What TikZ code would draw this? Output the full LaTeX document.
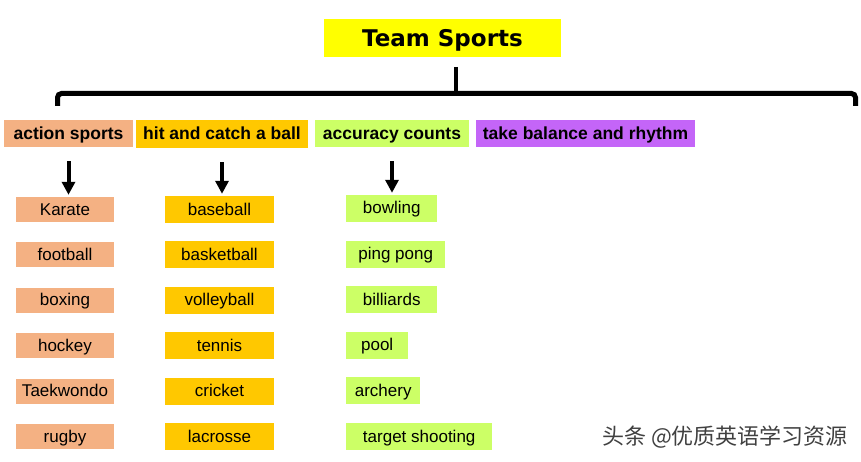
\documentclass[tikz,border=0pt]{standalone}
\usepackage{fontspec}
\setmainfont{Liberation Sans}
\newfontfamily\titlefont{DejaVu Sans}
\newfontfamily\cjk{Noto Sans CJK SC}
\usetikzlibrary{arrows.meta}
\definecolor{salmon}{HTML}{F4B183}
\definecolor{gold}{HTML}{FFC800}
\definecolor{lime}{HTML}{CCFF66}
\definecolor{violet}{HTML}{C465F8}
\definecolor{titleyellow}{HTML}{FFFF00}
\tikzset{
  hdr/.style={inner sep=0pt, minimum height=27pt, text height=14pt, text depth=2.5pt,
              font=\fontsize{17.5}{20}\selectfont\bfseries},
  item/.style={inner sep=0pt, minimum height=25pt, text height=13.5pt, text depth=2.5pt,
               font=\fontsize{17}{20}\selectfont},
  colone/.style={item, fill=salmon, minimum width=98pt},
  coltwo/.style={item, fill=gold, minimum width=109pt, minimum height=27pt},
  colthree/.style={item, fill=lime, minimum height=27pt, anchor=west},
  arr/.style={line width=4pt, -{Triangle[length=13pt,width=13pt]}, shorten <=14pt, shorten >=2pt},
}
\begin{document}
\begin{tikzpicture}[x=1pt,y=-1pt]
\useasboundingbox (0,0) rectangle (861,462);
% title
\node[fill=titleyellow, minimum width=237pt, minimum height=38pt, inner sep=0pt,
      text height=19pt, text depth=1.6pt,
      font=\titlefont\fontsize{23}{26}\selectfont\bfseries] (title) at (442.5,38) {Team Sports};
% stem and brace
\coordinate (stemtop) at (456,67);
\coordinate (stembot) at (456,93);
\draw[line width=4pt] (stemtop) -- (stembot);
\coordinate (bl) at (57.5,106);
\coordinate (br) at (855.5,106);
\draw[line width=5pt, rounded corners=4pt] (bl) |- (455,93.5) -| (br);
% headers
\node[hdr, fill=salmon, minimum width=129pt] (h1) at (68.5,133.5) {action sports};
\node[hdr, fill=gold, minimum width=172pt, minimum height=28pt] (h2) at (222,134) {hit and catch a ball};
\node[hdr, fill=lime, minimum width=154pt] (h3) at (392,133.5) {accuracy counts};
\node[hdr, fill=violet, minimum width=219pt] (h4) at (585.5,133.5) {take balance and rhythm};
% column 1
\node[colone] (a1) at (65,209.5) {Karate};
\node[colone] (a2) at (65,254.5) {football};
\node[colone] (a3) at (65,300) {boxing};
\node[colone] (a4) at (65,345.5) {hockey};
\node[colone] (a5) at (65,391) {Taekwondo};
\node[colone] (a6) at (65,436.5) {rugby};
% column 2
\node[coltwo] (b1) at (219.5,209.5) {baseball};
\node[coltwo] (b2) at (219.5,254.5) {basketball};
\node[coltwo] (b3) at (219.5,300) {volleyball};
\node[coltwo] (b4) at (219.5,345.5) {tennis};
\node[coltwo] (b5) at (219.5,391) {cricket};
\node[coltwo] (b6) at (219.5,436.5) {lacrosse};
% column 3
\node[colthree, minimum width=91pt] (c1) at (346,208.5) {bowling};
\node[colthree, minimum width=99pt] (c2) at (346,254) {ping pong};
\node[colthree, minimum width=91pt] (c3) at (346,299.5) {billiards};
\node[colthree, minimum width=62pt] (c4) at (346,345) {pool};
\node[colthree, minimum width=74pt] (c5) at (346,390.5) {archery};
\node[colthree, minimum width=146pt] (c6) at (346,436.5) {target shooting};
% arrows
\draw[arr] (h1.south) -- (h1.south |- a1.north);
\draw[arr] (h2.south) -- (h2.south |- b1.north);
\draw[arr] (h3.south) -- (h3.south |- c1.north);
% watermark
\node[font=\cjk\fontsize{22}{24}\selectfont, text=black!75, inner sep=0pt] (wm) at (725,437) {头条 @优质英语学习资源};
\end{tikzpicture}
\end{document}
